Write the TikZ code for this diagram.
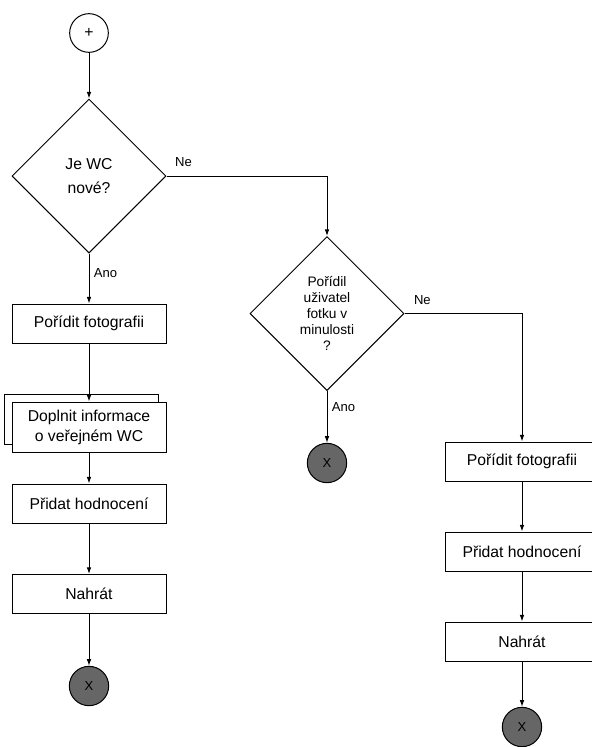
\documentclass[tikz,border=0pt]{standalone}
\usepackage{fontspec}
\setmainfont{Liberation Sans}
\usepackage{tikz}
\usetikzlibrary{shapes.geometric,arrows.meta,shadows}
\tikzset{
  fcbox/.style={draw=black, line width=0.75pt, fill=white, rectangle, minimum width=115.5pt, minimum height=29.25pt, inner sep=0pt, align=center, font=\fontsize{11.8}{15}\selectfont},
  fcstack/.style={fcbox, minimum height=37.5pt, copy shadow={shadow xshift=-6pt, shadow yshift=6pt, fill=white, draw=black, line width=0.75pt}},
  fcdec/.style={draw=black, line width=0.75pt, fill=white, diamond, minimum width=115.5pt, minimum height=115.5pt, inner sep=0pt, align=center},
  fcstart/.style={draw=black, line width=0.75pt, fill=white, circle, minimum size=29pt, inner sep=0pt, font=\fontsize{11.8}{14}\selectfont},
  fcstop/.style={draw=black, line width=0.75pt, fill=black!60, circle, minimum size=29.5pt, inner sep=0pt, font=\fontsize{9.8}{12}\selectfont},
  fcflow/.style={line width=0.75pt, draw=black, -{Latex[length=5pt,width=3.5pt]}},
  fclabel/.style={font=\fontsize{9.8}{12}\selectfont},
}

\begin{document}
\begin{tikzpicture}[x=0.75pt, y=-0.75pt]
\useasboundingbox (0,0) rectangle (592,747);
% left branch
\node[fcstart] (start) at (89,33) {+};
\node[fcdec, font=\fontsize{11.8}{18.5}\selectfont] (isnew) at (89,176) {Je WC\\nové?};
\node[fcbox] (photoA) at (89,323.5) {Pořídit fotografii};
\node[fcstack] (info) at (89,427) {Doplnit informace\\o veřejném WC};
\node[fcbox] (rateA) at (89,503.5) {Přidat hodnocení};
\node[fcbox] (uploadA) at (89,594) {Nahrát};
\node[fcstop] (stopA) at (89,686) {X};
% middle
\node[fcdec, font=\fontsize{10.3}{12}\selectfont] (hasphoto) at (327,313.5) {Pořídil\\uživatel\\fotku v\\minulosti\\?};
\node[fcstop] (stopB) at (327,463) {X};
% right branch
\node[fcbox] (photoB) at (522,461.5) {Pořídit fotografii};
\node[fcbox] (rateB) at (522,551.5) {Přidat hodnocení};
\node[fcbox] (uploadB) at (522,641.5) {Nahrát};
\node[fcstop] (stopC) at (522,727) {X};

\draw[fcflow] (start) -- (isnew);
\draw[fcflow] (isnew) -- node[fclabel, pos=0.39, right] {Ano} (photoA);
\draw[fcflow] (photoA) -- (info);
\draw[fcflow] (info) -- (rateA);
\draw[fcflow] (rateA) -- (uploadA);
\draw[fcflow] (uploadA) -- (stopA);
\draw[fcflow] (isnew.east) -| node[fclabel, pos=0.053, above=3pt] {Ne} (hasphoto.north);
\draw[fcflow] (hasphoto) -- node[fclabel, pos=0.31, right] {Ano} (stopB);
\draw[fcflow] (hasphoto.east) -| node[fclabel, pos=0.076, above=3pt] {Ne} (photoB.north);
\draw[fcflow] (photoB) -- (rateB);
\draw[fcflow] (rateB) -- (uploadB);
\draw[fcflow] (uploadB) -- (stopC);
\end{tikzpicture}
\end{document}
